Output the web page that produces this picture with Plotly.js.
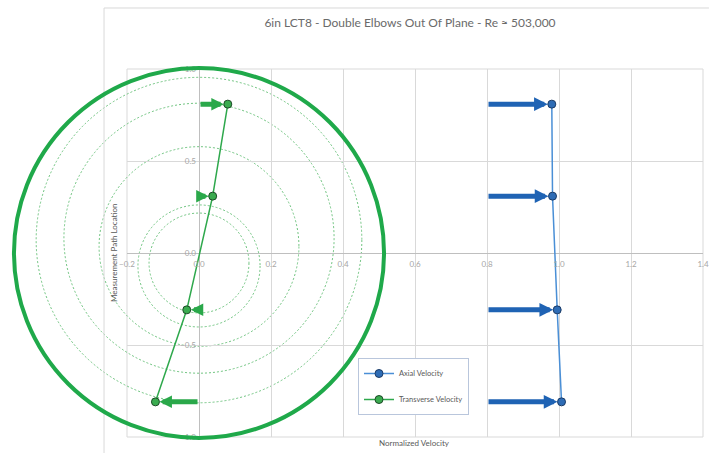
<!DOCTYPE html>
<html>
<head>
<meta charset="utf-8">
<script src="https://cdn.plot.ly/plotly-3.0.1.min.js"></script>
<style>html,body{margin:0;padding:0;background:#fff;}#chart{width:719px;height:453px;}</style>
</head>
<body>
<div id="chart"></div>
<script>
// ---- data ----
const pathLocation = [0.809, 0.309, -0.309, -0.809];
const axialVelocity = [0.980, 0.982, 0.995, 1.007];
const transverseVelocity = [0.080, 0.038, -0.034, -0.121];
const axialArrowBase = [0.8, 0.8, 0.8, 0.8];
const transverseArrowBase = [0, 0, 0, 0];
const xTickVals = [-0.2, 0, 0.2, 0.4, 0.6, 0.8, 1.0, 1.2, 1.4];
const yTickVals = [-1, -0.5, 0, 0.5, 1];
const seriesNames = ['Axial Velocity', 'Transverse Velocity'];
const chartTitle = '6in LCT8 - Double Elbows Out Of Plane - Re \u2248 503,000';
const xTitle = 'Normalized Velocity';
const yTitle = 'Measurement Path Location';
// pipe outline rings (fraction of pipe radius, centre offset as fraction)
const ringFraction = [0.27, 0.33, 0.54, 0.73, 0.88];
const ringCenterFraction = [-0.054, -0.07, 0.035, 0.08, 0.07];

// ---- geometry / style ----
const xRange = [-0.2, 1.4], yRange = [-1, 1];
const pipeRx = 0.514, pipeRy = 1.005;
const blueLine = '#4a8fd6', blueArrow = '#1f63b4', blueMarker = '#2e6cb5', blueEdge = '#1b3b66';
const greenLine = '#2ea84c', greenArrow = '#2aa84a', greenMarker = '#3aab4f', greenEdge = '#1c4a27';
const font = 'Lato, "Open Sans", sans-serif';
const toPx = v => (v - xRange[0]) / (xRange[1] - xRange[0]);
const toPy = v => (v - yRange[0]) / (yRange[1] - yRange[0]);

const traces = [
  {
    x: axialVelocity, y: pathLocation, name: seriesNames[0], type: 'scatter', mode: 'lines+markers',
    line: {color: blueLine, width: 1.5},
    marker: {size: 8, color: blueMarker, line: {color: blueEdge, width: 1}},
    legendgroup: 'a'
  },
  {
    x: transverseVelocity, y: pathLocation, name: seriesNames[1], type: 'scatter', mode: 'lines+markers',
    line: {color: greenLine, width: 1.5},
    marker: {size: 8, color: greenMarker, line: {color: greenEdge, width: 1}},
    legendgroup: 'b'
  }
];

const shapes = [];
// outer chart border (top & left)
shapes.push({type: 'line', xref: 'paper', yref: 'paper', x0: -0.0399, x1: 1.0104, y0: 1.1658, y1: 1.1658, line: {color: '#d9d9d9', width: 1}});
shapes.push({type: 'line', xref: 'paper', yref: 'paper', x0: -0.0399, x1: -0.0399, y0: 1.1658, y1: -0.05, line: {color: '#d9d9d9', width: 1}});
// plot-area frame
shapes.push({type: 'rect', xref: 'paper', yref: 'paper', x0: 0, x1: 1, y0: 0, y1: 1, line: {color: '#d9d9d9', width: 1}, layer: 'below'});
// dotted rings
ringFraction.forEach((f, i) => {
  const cy = ringCenterFraction[i] * pipeRy;
  shapes.push({type: 'circle', xref: 'paper', yref: 'paper', layer: 'below',
    x0: toPx(-f * pipeRx), x1: toPx(f * pipeRx), y0: toPy(cy - f * pipeRy), y1: toPy(cy + f * pipeRy),
    line: {color: '#6fc47f', width: 1, dash: '2px,2px'}});
});
// pipe wall
shapes.push({type: 'circle', xref: 'paper', yref: 'paper', layer: 'above',
  x0: toPx(-pipeRx), x1: toPx(pipeRx), y0: toPy(-pipeRy), y1: toPy(pipeRy), line: {color: '#1fa94a', width: 4}});

const annotations = [];
pathLocation.forEach((y, i) => {
  annotations.push({x: axialVelocity[i], y: y, ax: axialArrowBase[i], ay: y, xref: 'x', yref: 'y', axref: 'x', ayref: 'y',
    text: '', showarrow: true, arrowhead: 2, arrowsize: 0.55, arrowwidth: 5, arrowcolor: blueArrow, standoff: 4});
  annotations.push({x: transverseVelocity[i], y: y, ax: transverseArrowBase[i], ay: y, xref: 'x', yref: 'y', axref: 'x', ayref: 'y',
    text: '', showarrow: true, arrowhead: 2, arrowsize: 0.5, arrowwidth: 5, arrowcolor: greenArrow, standoff: 4});
});
annotations.push({text: xTitle, xref: 'paper', yref: 'paper', x: (414 - 127) / 576, y: (437 - 443) / 368,
  showarrow: false, xanchor: 'center', yanchor: 'middle', font: {family: font, size: 8, color: '#595959'}});
annotations.push({text: yTitle, xref: 'paper', yref: 'paper', x: (114 - 127) / 576, y: 0.5, textangle: -90,
  showarrow: false, xanchor: 'center', yanchor: 'middle', font: {family: font, size: 8, color: '#595959'}});

const layout = {
  width: 719, height: 453,
  margin: {l: 127, r: 16, t: 69, b: 16},
  paper_bgcolor: '#ffffff', plot_bgcolor: 'rgba(0,0,0,0)',
  font: {family: font},
  title: {text: chartTitle, x: 410 / 719, xanchor: 'center', xref: 'container', y: 1 - 23 / 453, yanchor: 'middle', yref: 'container',
    font: {family: font, size: 12, color: '#6a6a6a'}},
  xaxis: {range: xRange, tickvals: xTickVals, tickformat: '.1f', anchor: 'free', position: 0.5,
    showgrid: true, gridcolor: '#d9d9d9', gridwidth: 1, zeroline: true, zerolinecolor: '#bfbfbf', zerolinewidth: 1,
    showline: false, ticks: '', ticklabelstandoff: 5, tickfont: {family: font, size: 8, color: '#a6a6a6'}, fixedrange: true, automargin: false},
  yaxis: {range: yRange, tickvals: yTickVals, tickformat: '.1f', anchor: 'free', position: 0.125,
    showgrid: true, gridcolor: '#d9d9d9', gridwidth: 1, zeroline: true, zerolinecolor: '#bfbfbf', zerolinewidth: 1,
    showline: false, ticks: '', ticklabelstandoff: 3, tickfont: {family: font, size: 8, color: '#a6a6a6'}, fixedrange: true, automargin: false},
  showlegend: true,
  legend: {x: (358 - 127) / 576, y: (437 - 358) / 368, xanchor: 'left', yanchor: 'top',
    bgcolor: '#ffffff', bordercolor: '#b9c6dc', borderwidth: 1, tracegroupgap: 7,
    font: {family: font, size: 7.5, color: '#595959'}},
  shapes: shapes,
  annotations: annotations
};

Plotly.newPlot('chart', traces, layout, {displayModeBar: false, staticPlot: true});
</script>
</body>
</html>
